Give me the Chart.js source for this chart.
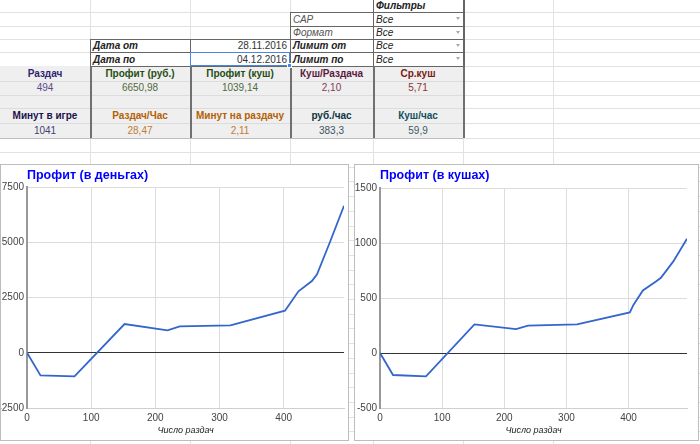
<!DOCTYPE html>
<html>
<head>
<meta charset="utf-8">
<script src="https://cdn.jsdelivr.net/npm/chart.js@4"></script>
<style>
  html, body { margin: 0; padding: 0; background: #fff; }
  body { width: 700px; height: 444px; position: relative; overflow: hidden; font-family: "Liberation Sans", Arial, sans-serif; }
  .ln { position: absolute; }
  .c { position: absolute; display: flex; white-space: nowrap; box-sizing: border-box; }
  .box { position: absolute; background: #fff; border: 1px solid #bdbdbd; box-sizing: border-box; }
  .box canvas { display: block; }
</style>
</head>
<body>
<div id="sheet"></div>
<div class="box" style="left:0;top:164px;width:349px;height:277px"><canvas id="rub"></canvas></div>
<div class="box" style="left:354px;top:164px;width:345px;height:277px"><canvas id="bb"></canvas></div>
<script>
// chart data
const hands = [0, 21, 74, 152, 219, 238, 317, 402, 408, 423, 444, 452, 472, 494]
const profitRub = [0, -1027, -1072, 1299, 1012, 1193, 1239, 1903, 2150, 2779, 3247, 3550, 5000, 6650.98]
const profitBB = [0, -200, -212, 260, 218, 248, 260, 369, 439, 569, 650, 684, 833, 1039.14]
const xTicks = [0, 100, 200, 300, 400]
const rubTicks = [-2500, 0, 2500, 5000, 7500]
const bbTicks = [-500, 0, 500, 1000, 1500]

// spreadsheet text
const filterLabels = ['САР', 'Формат', 'Лимит от', 'Лимит по']
const filterValues = ['Все', 'Все', 'Все', 'Все']
const dateLabels = ['Дата от', 'Дата по']
const dateValues = ['28.11.2016', '04.12.2016']
const statHeads1 = ['Раздач', 'Профит (руб.)', 'Профит (куш)', 'Куш/Раздача', 'Ср.куш']
const statVals1 = ['494', '6650,98', '1039,14', '2,10', '5,71']
const statHeads2 = ['Минут в игре', 'Раздач/Час', 'Минут на раздачу', 'руб./час', 'Куш/час']
const statVals2 = ['1041', '28,47', '2,11', '383,3', '59,9']

const headColors1 = ['#2f2470', '#274e13', '#274e13', '#5b1a3f', '#7a1a12']
const valColors1 = ['#5b4a8b', '#4f6b3d', '#4f6b3d', '#7f3b5e', '#8a3535']
const headColors2 = ['#20124d', '#b45f06', '#b45f06', '#0c343d', '#134f5c']
const valColors2 = ['#3f3f6f', '#c27c32', '#c27c32', '#3d5560', '#3d5a63']

const sheet = document.getElementById('sheet')
const colX = [0, 90, 190, 290, 373, 463, 553]
const rowY = [0, 12.3, 25.7, 39, 52.3, 65.7, 80.7, 95, 108.3, 123.3, 138.3, 152]

const add = (html) => sheet.insertAdjacentHTML('beforeend', html)
const hline = (x, y, w, color, t = 1) =>
  add(`<div class="ln" style="left:${x}px;top:${y}px;width:${w}px;height:${t}px;background:${color}"></div>`)
const vline = (x, y, h, color, t = 1) =>
  add(`<div class="ln" style="left:${x}px;top:${y}px;width:${t}px;height:${h}px;background:${color}"></div>`)
const cell = (x, y, w, h, text, style) =>
  add(`<div class="c" style="left:${x}px;top:${y}px;width:${w}px;height:${h}px;${style}">${text}</div>`)

// light sheet grid
for (let y = 152 + 14.7; y < 444; y += 14.7) rowY.push(y)
rowY.slice(1).forEach(y => hline(0, y, 700, '#e2e2e2'))
colX.slice(1).forEach(x => vline(x, 0, 444, '#e2e2e2'))

// stats block background
add(`<div class="ln" style="left:0;top:${rowY[5]}px;width:463px;height:${rowY[10] - rowY[5]}px;background:#efefef"></div>`)
;[6, 7, 8, 9].forEach(i => hline(0, rowY[i], 463, '#dcdcdc'))
hline(0, rowY[10], 463, '#bdbdbd')

// bordered filter / date cells
const dark = '#666'
vline(colX[5], 0, rowY[10], dark, 2)
;[1, 2, 3, 4, 5].forEach(i => hline(colX[3], rowY[i], colX[5] - colX[3], dark))
;[3, 4, 5].forEach(i => hline(colX[1], rowY[i], colX[3] - colX[1], dark))
vline(colX[3], rowY[1], rowY[5] - rowY[1], dark)
vline(colX[4], 0, rowY[5], dark)
vline(colX[1], rowY[3], rowY[5] - rowY[3], dark)
vline(colX[2], rowY[3], rowY[5] - rowY[3], dark)
;[1, 2, 3, 4, 5].forEach(i => vline(colX[i], rowY[5], rowY[10] - rowY[5], '#707070', 2))

// selected cell
add(`<div class="ln" style="left:${colX[2]}px;top:${rowY[4]}px;width:${colX[3] - colX[2]}px;height:${rowY[5] - rowY[4]}px;border:1.5px solid #4a86e8;box-sizing:border-box"></div>`)
add(`<div class="ln" style="left:${colX[3] - 3}px;top:${rowY[5] - 3}px;width:5px;height:5px;background:#4a86e8;border:1px solid #fff;box-sizing:border-box"></div>`)

const NARROW = "'Liberation Sans Narrow', 'Arial Narrow', 'Liberation Sans', Arial, sans-serif"
const small = `font-family:${NARROW};font-size:10px;align-items:flex-end;padding:0 3px 0 3px;line-height:12px;`
cell(colX[4], rowY[0], 90, rowY[1] - rowY[0], 'Фильтры', small + 'font-weight:bold;font-style:italic;color:#222')
filterLabels.forEach((t, i) => {
  const bold = i >= 2 ? 'font-weight:bold;color:#222;' : 'color:#555;'
  cell(colX[3], rowY[i + 1], colX[4] - colX[3], rowY[i + 2] - rowY[i + 1], t, small + 'font-style:italic;' + bold)
})
filterValues.forEach((t, i) => {
  cell(colX[4], rowY[i + 1], colX[5] - colX[4], rowY[i + 2] - rowY[i + 1], t, small + 'font-style:italic;color:#222')
  add(`<div class="ln" style="left:${colX[5] - 7}px;top:${rowY[i + 1] + 5}px;width:0;height:0;border-left:2.5px solid transparent;border-right:2.5px solid transparent;border-top:3px solid #aaa"></div>`)
})
dateLabels.forEach((t, i) => {
  cell(colX[1], rowY[i + 3], colX[2] - colX[1], rowY[i + 4] - rowY[i + 3], t, small + 'font-weight:bold;font-style:italic;color:#222')
  cell(colX[2], rowY[i + 3], colX[3] - colX[2], rowY[i + 4] - rowY[i + 3], dateValues[i], small + 'justify-content:flex-end;color:#333')
})

const mid = 'font-size:10px;align-items:center;justify-content:center;'
const statRow = (texts, colors, r, bold) => texts.forEach((t, i) =>
  cell(colX[i], rowY[r], colX[i + 1] - colX[i], rowY[r + 1] - rowY[r], t, mid + `color:${colors[i]};` + (bold ? 'font-weight:bold;' : '')))
statRow(statHeads1, headColors1, 5, true)
statRow(statVals1, valColors1, 6, false)
statRow(statHeads2, headColors2, 8, true)
statRow(statVals2, valColors2, 9, false)

// charts
const FONT = '"Liberation Sans", Arial, sans-serif'

const cornerTitle = {
  id: 'cornerTitle',
  afterDraw(chart, args, opts) {
    const ctx = chart.ctx
    ctx.save()
    ctx.font = `bold 12.5px ${FONT}`
    ctx.fillStyle = '#0000ff'
    ctx.textBaseline = 'middle'
    ctx.fillText(opts.text, chart.chartArea.left, opts.y)
    ctx.restore()
  }
}

const makeChart = (id, title, values, ticks, yWidth, padRight, padTop) => new Chart(document.getElementById(id), {
  type: 'line',
  data: {
    datasets: [{
      data: hands.map((x, i) => ({ x, y: values[i] })),
      borderColor: '#3366cc',
      borderWidth: 1.8,
      pointRadius: 0,
      tension: 0
    }]
  },
  plugins: [cornerTitle],
  options: {
    animation: false,
    responsive: true,
    maintainAspectRatio: false,
    layout: { padding: { left: 0, right: padRight, top: padTop, bottom: 0 } },
    scales: {
      x: {
        type: 'linear',
        min: 0,
        max: hands[hands.length - 1],
        afterBuildTicks: scale => { scale.ticks = xTicks.map(value => ({ value })) },
        afterFit: scale => { scale.height = 32 },
        grid: { color: '#dcdcdc', drawTicks: false },
        border: { color: '#cfcfcf' },
        ticks: { color: '#444', padding: 4, font: { family: NARROW, size: 10 }, callback: v => String(v) },
        title: {
          display: true,
          text: 'Число раздач',
          color: '#222',
          padding: { top: 0, bottom: 4 },
          font: { family: FONT, size: 9, style: 'italic' }
        }
      },
      y: {
        min: ticks[0],
        max: ticks[ticks.length - 1],
        afterBuildTicks: scale => { scale.ticks = ticks.map(value => ({ value })) },
        afterFit: scale => { scale.width = yWidth },
        grid: {
          drawTicks: false,
          color: c => c.tick && c.tick.value === 0 ? '#333' : '#dcdcdc'
        },
        border: { color: '#999', width: 2 },
        ticks: { color: '#444', padding: 3, font: { family: NARROW, size: 10 }, callback: v => String(v) }
      }
    },
    plugins: {
      legend: { display: false },
      tooltip: { enabled: false },
      cornerTitle: { text: title, y: 11 }
    }
  }
})

makeChart('rub', 'Профит (в деньгах)', profitRub, rubTicks, 26, 4, 22)
makeChart('bb', 'Профит (в кушах)', profitBB, bbTicks, 25, 11, 23)
</script>
</body>
</html>
